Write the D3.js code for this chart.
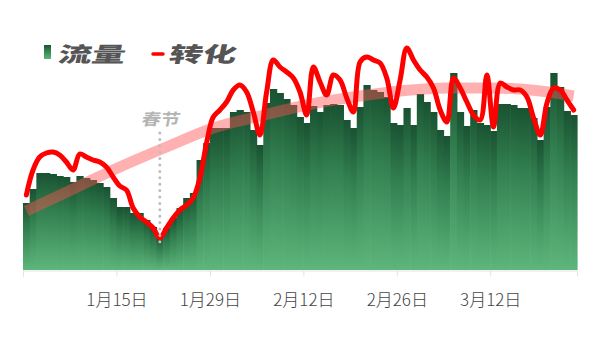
<!DOCTYPE html>
<html>
<head>
<meta charset="utf-8">
<script src="https://cdn.jsdelivr.net/npm/d3@7"></script>
<style>
  html, body { margin: 0; padding: 0; background: #fff; }
  svg { display: block; font-family: "Noto Sans CJK SC", "Noto Sans", sans-serif; }
</style>
</head>
<body>
<div id="chart"></div>
<script>
// DATA (one value per day, 1 Jan - 24 Mar)
const startDay = new Date(2023, 0, 1);
const flow = [67, 81, 97, 97, 96, 94, 93, 88, 94, 92, 90, 87, 83, 72, 63, 63, 57, 57, 50, 43,
  34, 42, 52, 62, 72, 77, 110, 127, 142, 142, 142, 158, 160, 158, 140, 125, 167, 181, 177, 171,
  165, 153, 147, 164, 158, 165, 166, 165, 150, 142, 163, 185, 180, 178, 173, 147, 145, 162, 145, 176,
  168, 158, 140, 134, 197, 158, 144, 160, 147, 145, 139, 166, 166, 165, 162, 162, 152, 130, 163, 197,
  183, 159, 155];
const conversion = [75, 100, 113, 117, 118, 115, 108, 100, 116, 113, 110, 108, 103, 93, 84, 80, 62, 53, 48, 42,
  32, 42, 52, 60, 65, 72, 92, 127, 153, 160, 168, 180, 185, 178, 158, 135, 178, 210, 203, 198,
  192, 178, 155, 203, 188, 175, 195, 190, 172, 158, 208, 213, 210, 207, 192, 162, 190, 222, 210, 200,
  193, 182, 160, 148, 192, 182, 168, 155, 150, 195, 143, 187, 183, 180, 180, 173, 152, 135, 167, 182,
  180, 170, 160];
// trend of conversion, read at weekly points (day index, value)
const trendDays = [0, 7, 14, 21, 28, 35, 42, 49, 56, 63, 70, 77, 82];
const trendValues = [59, 81, 103, 123, 142, 154, 165, 173, 179, 182, 182, 179, 174];
const tickDates = [new Date(2023, 0, 1), new Date(2023, 0, 15), new Date(2023, 0, 29),
  new Date(2023, 1, 12), new Date(2023, 1, 26), new Date(2023, 2, 12)];
const tickLabels = ["", "1月15日", "1月29日", "2月12日", "2月26日", "3月12日"];
const springFestivalDay = 20;   // marker index
const legendNames = ["流量", "转化"];
const markLabel = "春节";

const W = 600, H = 337;
const margin = { top: 70, bottom: 67, left: 23, right: 23 };

const dayOf = i => d3.timeDay.offset(startDay, i);

const svg = d3.select('#chart').append('svg')
  .attr('width', W)
  .attr('height', H);

const x = d3.scaleTime()
  .domain([startDay, dayOf(flow.length)])
  .range([margin.left, W - margin.right]);
const y = d3.scaleLinear()
  .domain([0, 200])
  .range([H - margin.bottom, margin.top]);

const mid = i => (x(dayOf(i)) + x(dayOf(i + 1))) / 2;

// gradient for bars
const defs = svg.append('defs');
const grad = defs.append('linearGradient')
  .attr('id', 'barGrad')
  .attr('x1', 0).attr('y1', 0).attr('x2', 0).attr('y2', 1);
grad.append('stop').attr('offset', '0%').attr('stop-color', '#195232');
grad.append('stop').attr('offset', '35%').attr('stop-color', '#2f7b4c');
grad.append('stop').attr('offset', '100%').attr('stop-color', '#5db67b');

// x axis
const xAxis = d3.axisBottom(x)
  .tickValues(tickDates)
  .tickSize(6)
  .tickPadding(17)
  .tickFormat((d, i) => tickLabels[i]);
const xAxisG = svg.append('g')
  .attr('class', 'x-axis')
  .attr('transform', `translate(0, ${y(0) + 0.5})`)
  .call(xAxis);
xAxisG.select('.domain').attr('stroke', '#e3e3e3');
xAxisG.selectAll('.tick line').attr('stroke', '#e3e3e3');
xAxisG.selectAll('.tick text')
  .attr('fill', '#444')
  .style('font-size', '17px')
  .style('font-family', '"Noto Sans CJK SC", sans-serif')
  .style('font-weight', 300);

// bars
svg.append('g').selectAll('rect')
  .data(flow)
  .enter().append('rect')
    .attr('x', (d, i) => x(dayOf(i)))
    .attr('width', (d, i) => x(dayOf(i + 1)) - x(dayOf(i)) + 0.6)
    .attr('y', d => y(d))
    .attr('height', d => y(0) - y(d))
    .attr('fill', 'url(#barGrad)');

// trend of conversion (thick translucent band)
const trendLine = d3.line()
  .x((d, i) => mid(trendDays[i]))
  .y(d => y(d))
  .curve(d3.curveMonotoneX);
svg.append('path')
  .attr('fill', 'none')
  .attr('stroke', '#ff5252')
  .attr('stroke-opacity', 0.45)
  .attr('stroke-width', 11)
  .attr('d', trendLine(trendValues));

// conversion line
const convLine = d3.line()
  .x((d, i) => mid(i))
  .y(d => y(d))
  .curve(d3.curveCatmullRom.alpha(0.5));
svg.append('path')
  .attr('fill', 'none')
  .attr('stroke', '#ff0000')
  .attr('stroke-width', 5)
  .attr('stroke-linejoin', 'round')
  .attr('stroke-linecap', 'round')
  .attr('d', convLine(conversion));

// spring festival marker
const mx = mid(springFestivalDay);
svg.append('line')
  .attr('x1', mx).attr('x2', mx)
  .attr('y1', 133).attr('y2', 248)
  .attr('stroke', '#bdbdbd')
  .attr('stroke-width', 3)
  .attr('stroke-linecap', 'round')
  .attr('stroke-dasharray', '0 6.4');
svg.append('text')
  .attr('transform', `translate(${mx}, 125) skewX(-12) scale(1.2, 1)`)
  .attr('text-anchor', 'middle')
  .attr('fill', '#b3b3b3')
  .style('font-size', '16px')
  .style('font-weight', 700)
  .text(markLabel);

// legend
const legend = svg.append('g').attr('class', 'legend');
legend.append('rect')
  .attr('x', 44).attr('y', 45)
  .attr('width', 7).attr('height', 14)
  .attr('fill', 'url(#barGrad)');
legend.append('text')
  .attr('transform', 'translate(57, 62) skewX(-12) scale(1.6, 1)')
  .attr('fill', '#555')
  .style('font-size', '21px')
  .style('font-weight', 900)
  .text(legendNames[0]);
legend.append('line')
  .attr('x1', 153).attr('x2', 163)
  .attr('y1', 54).attr('y2', 54)
  .attr('stroke', '#ff0000')
  .attr('stroke-width', 3.5)
  .attr('stroke-linecap', 'round');
legend.append('text')
  .attr('transform', 'translate(168, 62) skewX(-12) scale(1.6, 1)')
  .attr('fill', '#555')
  .style('font-size', '21px')
  .style('font-weight', 900)
  .text(legendNames[1]);
</script>
</body>
</html>
